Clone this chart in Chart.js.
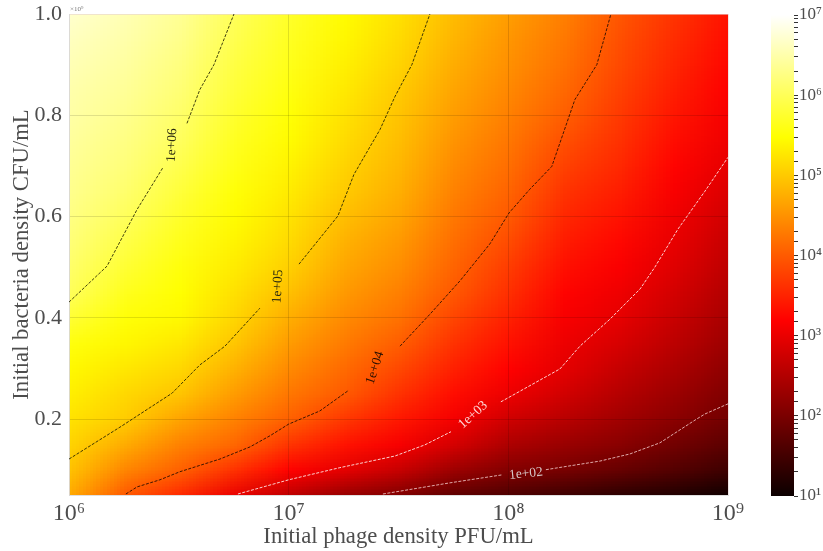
<!DOCTYPE html>
<html>
<head>
<meta charset="utf-8">
<style>
  body { margin: 0; background: #fff; }
  #myChart { position: absolute; left: 0; top: 0; }
  #myBar { position: absolute; left: 771px; top: 0; }
</style>
<script src="https://cdn.jsdelivr.net/npm/chart.js@4"></script>
</head>
<body>
<canvas id="myChart" width="823" height="551"></canvas>
<canvas id="myBar" width="52" height="551"></canvas>
<script>
const xTicks = [1e6, 1e7, 1e8, 1e9];
const yTicks = [0.2, 0.4, 0.6, 0.8, 1.0];
const barTicks = [1e1, 1e2, 1e3, 1e4, 1e5, 1e6, 1e7];

const heatLogX = [6, 6.25, 6.5, 6.75, 7, 7.25, 7.5, 7.75, 8, 8.25, 8.5, 8.75, 9];
const heatY = [0.05, 0.1, 0.15, 0.2, 0.25, 0.3, 0.35, 0.4, 0.45, 0.5, 0.55, 0.6, 0.65, 0.7, 0.75, 0.8, 0.85, 0.9, 0.95, 1.0];
const heatLogZ = [
  [4.7, 4.92, 5.08, 5.22, 5.33, 5.42, 5.55, 5.78, 6.0, 6.1, 6.18, 6.25, 6.31, 6.36, 6.41, 6.46, 6.5, 6.56, 6.62, 6.7],
  [3.98, 4.38, 4.72, 5.02, 5.13, 5.26, 5.4, 5.52, 5.65, 5.78, 5.9, 6.02, 6.12, 6.2, 6.26, 6.32, 6.38, 6.43, 6.49, 6.55],
  [3.55, 4.05, 4.35, 4.65, 4.95, 5.12, 5.27, 5.42, 5.48, 5.54, 5.63, 5.72, 5.82, 5.93, 6.03, 6.1, 6.17, 6.23, 6.3, 6.36],
  [3.0, 3.62, 4.1, 4.35, 4.58, 4.78, 4.96, 5.1, 5.2, 5.3, 5.38, 5.45, 5.52, 5.6, 5.67, 5.74, 5.81, 5.87, 5.94, 6.0],
  [2.6, 3.2, 3.65, 4.05, 4.25, 4.42, 4.58, 4.74, 4.9, 5.05, 5.14, 5.22, 5.3, 5.37, 5.44, 5.5, 5.56, 5.62, 5.67, 5.72],
  [2.25, 2.95, 3.35, 3.68, 4.0, 4.14, 4.28, 4.43, 4.56, 4.68, 4.78, 4.89, 5.0, 5.08, 5.15, 5.22, 5.28, 5.34, 5.4, 5.45],
  [2.05, 2.68, 3.12, 3.4, 3.63, 3.83, 4.02, 4.2, 4.33, 4.45, 4.55, 4.66, 4.75, 4.82, 4.88, 4.94, 5.0, 5.08, 5.14, 5.2],
  [1.75, 2.3, 2.8, 3.1, 3.3, 3.47, 3.63, 3.8, 3.97, 4.08, 4.17, 4.26, 4.35, 4.43, 4.51, 4.59, 4.66, 4.73, 4.8, 4.87],
  [1.6, 2.07, 2.45, 2.75, 3.03, 3.2, 3.33, 3.47, 3.6, 3.72, 3.85, 3.98, 4.08, 4.17, 4.25, 4.33, 4.4, 4.47, 4.53, 4.6],
  [1.45, 1.97, 2.28, 2.55, 2.78, 2.95, 3.03, 3.13, 3.22, 3.32, 3.43, 3.54, 3.65, 3.77, 3.9, 4.03, 4.12, 4.2, 4.27, 4.33],
  [1.3, 1.82, 2.13, 2.35, 2.53, 2.68, 2.83, 2.97, 3.05, 3.15, 3.25, 3.35, 3.45, 3.55, 3.63, 3.7, 3.77, 3.84, 3.9, 3.96],
  [1.2, 1.65, 1.93, 2.15, 2.3, 2.45, 2.58, 2.7, 2.8, 2.9, 2.98, 3.06, 3.14, 3.22, 3.3, 3.38, 3.45, 3.52, 3.58, 3.65],
  [1.05, 1.45, 1.72, 1.93, 2.05, 2.18, 2.3, 2.4, 2.5, 2.6, 2.68, 2.77, 2.87, 2.97, 3.05, 3.12, 3.18, 3.24, 3.3, 3.35]
];

// Contour lines, x as exponent, null where the label cuts the line
const c6X = [6, 6.173, 6.31, 6.428, null, 6.537, 6.596, 6.66, 6.751];
const c6Y = [0.431, 0.502, 0.614, 0.697, null, 0.784, 0.851, 0.9, 1.0];
const c5X = [6, 6.232, 6.469, 6.596, 6.71, 6.869, null, 7.047, 7.224, 7.297, 7.416, 7.484, 7.561, 7.643];
const c5Y = [0.121, 0.184, 0.251, 0.307, 0.344, 0.419, null, 0.506, 0.601, 0.683, 0.772, 0.837, 0.9, 1.0];
const c4X = [6.259, 6.31, 6.414, 6.505, 6.687, 6.824, 6.915, 7.0, 7.142, 7.274, null, 7.507, 7.643, 7.78, 7.916, 8.003, 8.098, 8.198, 8.303, 8.403, 8.467];
const c4Y = [0.052, 0.066, 0.08, 0.096, 0.121, 0.145, 0.167, 0.19, 0.216, 0.257, null, 0.344, 0.407, 0.473, 0.546, 0.607, 0.654, 0.699, 0.831, 0.9, 1.0];
const c3X = [6.769, 7.0, 7.233, 7.484, 7.62, 7.739, null, 7.966, 8.235, 8.326, 8.462, 8.6, 8.667, 8.772, 8.895, 9.0];
const c3Y = [0.052, 0.08, 0.104, 0.127, 0.149, 0.175, null, 0.234, 0.299, 0.344, 0.397, 0.457, 0.5, 0.575, 0.65, 0.717];
const c2X = [7.429, 7.734, 7.975, null, 8.171, 8.417, 8.553, 8.69, 8.85, 8.895, 9.0];
const c2Y = [0.052, 0.074, 0.09, null, 0.1, 0.117, 0.131, 0.153, 0.198, 0.21, 0.23];

const labelTexts = ['1e+06', '1e+05', '1e+04', '1e+03', '1e+02'];
const labelLogX = [6.469, 6.951, 7.393, 7.839, 8.08];
const labelY = [0.741, 0.462, 0.301, 0.208, 0.092];
const labelAngle = [-87, -87, -72, -42, -6];
const labelColors = ['#2a2a10', '#2a2a10', '#2a1000', '#ffd8d8', '#d8c8c8'];

const fontFamily = '"Liberation Serif", serif';
const textColor = '#4d4d4d';

// hot colormap between 1e1 and 1e7
function hotColor(t) {
  t = Math.min(1, Math.max(0, t));
  const r = t < 0.365 ? 0.0416 + (1 - 0.0416) * t / 0.365 : 1;
  const g = t < 0.365 ? 0 : t < 0.746 ? (t - 0.365) / 0.381 : 1;
  const b = t < 0.746 ? 0 : (t - 0.746) / 0.254;
  return [r * 255, g * 255, b * 255];
}

function contour(xs, ys, color) {
  return {
    data: xs.map((x, i) => x === null ? { x: null, y: null } : { x: Math.pow(10, x), y: ys[i] }),
    borderColor: color,
    borderWidth: 1,
    borderDash: [3, 1.5],
    pointRadius: 0,
    showLine: true,
    fill: false,
    tension: 0
  };
}

const heatPlugin = {
  id: 'heat',
  beforeDraw(chart) {
    const { ctx, chartArea, scales } = chart;
    const cols = heatLogX.length, rows = heatY.length;
    const img = document.createElement('canvas');
    img.width = cols;
    img.height = rows;
    const ictx = img.getContext('2d');
    const pix = ictx.createImageData(cols, rows);
    for (let i = 0; i < cols; i++) {
      for (let j = 0; j < rows; j++) {
        const c = hotColor((heatLogZ[i][j] - 1) / 6);
        const k = ((rows - 1 - j) * cols + i) * 4;
        pix.data[k] = c[0];
        pix.data[k + 1] = c[1];
        pix.data[k + 2] = c[2];
        pix.data[k + 3] = 255;
      }
    }
    ictx.putImageData(pix, 0, 0);
    const x0 = scales.x.getPixelForValue(Math.pow(10, heatLogX[0]));
    const x1 = scales.x.getPixelForValue(Math.pow(10, heatLogX[cols - 1]));
    const y0 = scales.y.getPixelForValue(heatY[rows - 1]);
    const y1 = scales.y.getPixelForValue(heatY[0]);
    const dx = (x1 - x0) / (cols - 1), dy = (y1 - y0) / (rows - 1);
    ctx.save();
    ctx.beginPath();
    ctx.rect(chartArea.left, chartArea.top, chartArea.width, chartArea.height);
    ctx.clip();
    ctx.imageSmoothingEnabled = true;
    ctx.drawImage(img, x0 - dx / 2, y0 - dy / 2, x1 - x0 + dx, y1 - y0 + dy);
    ctx.restore();
  },
  afterDraw(chart) {
    const { ctx, chartArea, scales } = chart;
    ctx.save();
    ctx.textAlign = 'center';
    ctx.textBaseline = 'middle';
    ctx.font = '13.5px ' + fontFamily;
    labelTexts.forEach((t, i) => {
      ctx.save();
      ctx.translate(scales.x.getPixelForValue(Math.pow(10, labelLogX[i])), scales.y.getPixelForValue(labelY[i]));
      ctx.rotate(labelAngle[i] * Math.PI / 180);
      ctx.fillStyle = labelColors[i];
      ctx.fillText(t, 0, 0);
      ctx.restore();
    });
    // offset text of the y axis
    ctx.textAlign = 'left';
    ctx.fillStyle = '#777';
    ctx.font = '7px ' + fontFamily;
    ctx.fillText('×10⁹', chartArea.left + 1, chartArea.top - 5);
    ctx.restore();
  }
};

new Chart(document.getElementById('myChart'), {
  type: 'scatter',
  data: {
    datasets: [
      contour(c6X, c6Y, 'rgba(30,30,0,0.85)'),
      contour(c5X, c5Y, 'rgba(30,30,0,0.85)'),
      contour(c4X, c4Y, 'rgba(30,10,0,0.85)'),
      contour(c3X, c3Y, 'rgba(255,230,230,0.9)'),
      contour(c2X, c2Y, 'rgba(255,225,225,0.75)')
    ]
  },
  plugins: [heatPlugin],
  options: {
    responsive: false,
    animation: false,
    layout: { padding: { top: 14, right: 95, left: 0, bottom: 0 } },
    plugins: { legend: { display: false }, tooltip: { enabled: false } },
    scales: {
      x: {
        type: 'logarithmic',
        min: 1e6,
        max: 1e9,
        afterBuildTicks: scale => { scale.ticks = xTicks.map(v => ({ value: v })); },
        afterFit: scale => { scale.height = 56; },
        border: { color: 'rgba(215,215,215,0.8)' },
        grid: {
          color: ctx => ctx.tick && (ctx.tick.value === 1e6 || ctx.tick.value === 1e9) ? 'rgba(230,210,210,0.6)' : 'rgba(0,0,0,0.12)',
          lineWidth: 1,
          drawTicks: false
        },
        ticks: {
          autoSkip: false,
          maxRotation: 0,
          padding: 4,
          color: textColor,
          font: { family: fontFamily, size: 24 },
          callback: v => '10' + '⁰¹²³⁴⁵⁶⁷⁸⁹'[Math.round(Math.log10(v))]
        },
        title: {
          display: true,
          text: 'Initial phage density PFU/mL',
          color: textColor,
          font: { family: fontFamily, size: 22.7 },
          padding: 0
        }
      },
      y: {
        type: 'linear',
        min: 0.05,
        max: 1.0,
        afterBuildTicks: scale => { scale.ticks = yTicks.map(v => ({ value: v })); },
        afterFit: scale => { scale.width = 69; scale.paddingTop = 0; scale.paddingBottom = 0; },
        border: { color: 'rgba(215,215,215,0.8)' },
        grid: {
          color: ctx => ctx.tick && ctx.tick.value === 1.0 ? 'rgba(230,210,210,0.6)' : 'rgba(0,0,0,0.12)',
          lineWidth: 1,
          drawTicks: false
        },
        ticks: {
          autoSkip: false,
          padding: 7,
          color: textColor,
          font: { family: fontFamily, size: 22 },
          callback: v => v.toFixed(1)
        },
        title: {
          display: true,
          text: 'Initial bacteria density CFU/mL',
          color: textColor,
          font: { family: fontFamily, size: 22.7 },
          padding: { top: 8, bottom: 0 }
        }
      }
    }
  }
});

// Colour bar
function barGradient(ctx) {
  const area = ctx.chart.chartArea;
  if (!area) return '#000';
  const g = ctx.chart.ctx.createLinearGradient(0, area.bottom, 0, area.top);
  [0, 0.365, 0.746, 1].forEach(t => {
    const c = hotColor(t);
    g.addColorStop(t, 'rgb(' + c.join(',') + ')');
  });
  return g;
}

new Chart(document.getElementById('myBar'), {
  type: 'bar',
  data: {
    labels: [''],
    datasets: [{
      data: [[barTicks[0], barTicks[barTicks.length - 1]]],
      backgroundColor: barGradient,
      borderWidth: 0,
      barPercentage: 1,
      categoryPercentage: 1
    }]
  },
  options: {
    responsive: false,
    animation: false,
    layout: { padding: { top: 15, right: 0, left: 0, bottom: 55 } },
    plugins: { legend: { display: false }, tooltip: { enabled: false } },
    scales: {
      x: { display: false },
      y: {
        type: 'logarithmic',
        position: 'right',
        min: 1e1,
        max: 1e7,
        afterFit: scale => { scale.width = 29; scale.paddingTop = 0; scale.paddingBottom = 0; },
        border: { display: false },
        grid: { drawOnChartArea: false, tickLength: 4, tickColor: '#333', tickWidth: 1 },
        ticks: {
          autoSkip: false,
          padding: 1,
          color: textColor,
          font: { family: fontFamily, size: 17 },
          callback: v => barTicks.includes(v) ? '10' + '⁰¹²³⁴⁵⁶⁷⁸⁹'[Math.round(Math.log10(v))] : ''
        }
      }
    }
  }
});
</script>
</body>
</html>
